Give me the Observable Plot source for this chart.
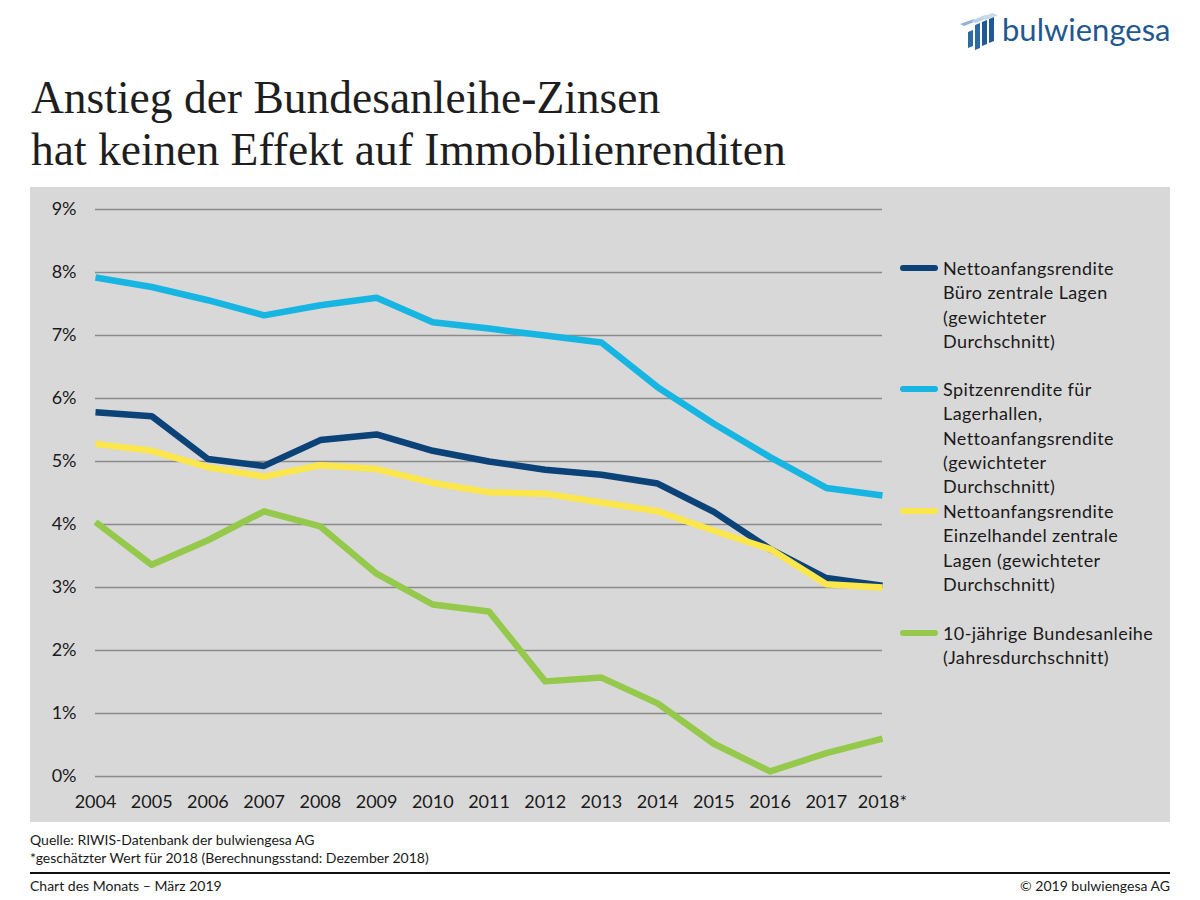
<!DOCTYPE html>
<html>
<head>
<meta charset="utf-8">
<script src="https://cdn.jsdelivr.net/npm/d3@7"></script>
<script src="https://cdn.jsdelivr.net/npm/@observablehq/plot@0.6"></script>
<style>
  html, body { margin: 0; padding: 0; background: #fff; }
  #page { position: relative; width: 1200px; height: 900px; overflow: hidden; font-family: Lato, "Open Sans", sans-serif; color: #1a1a1a; }
  #title { position: absolute; left: 31px; top: 72px; font-family: "Liberation Serif", serif; font-size: 45.5px; line-height: 52px; color: #1e1e1e; white-space: nowrap; }
  #chart { position: absolute; left: 30px; top: 187px; }
  #legend { position: absolute; left: 870px; top: 0; width: 270px; font-size: 18px; line-height: 24.3px; letter-spacing: 0.4px; }
  .entry { position: absolute; left: 0; }
  .sw { position: absolute; left: 0; top: 9px; width: 38px; height: 6px; border-radius: 3px; }
  .lt { position: absolute; left: 43px; top: 0; white-space: nowrap; }
  .foot { position: absolute; font-size: 14px; color: #1a1a1a; white-space: nowrap; }
  #rule { position: absolute; left: 30px; top: 872px; width: 1140px; height: 2px; background: #111; }
  #logo { position: absolute; left: 958px; top: 10px; }
</style>
</head>
<body>
<div id="page">
  <svg id="logo" width="215" height="42" viewBox="0 0 215 42">
    <polygon points="2,14 16,9 16,12 6,16" fill="#8fb3d4"/>
    <polygon points="10,22 10,38 15,36 15,20" fill="#2b6aa3"/>
    <polygon points="6,16 16,12 24,8 14,13" fill="#a9c6e0"/>
    <polygon points="17,15 17,40 22,38 22,13" fill="#2b6aa3"/>
    <polygon points="13,11 27,5 32,7 18,13" fill="#b9d2e8"/>
    <polygon points="24,12 24,36 29,34 29,10" fill="#1f5a94"/>
    <polygon points="31,9 31,33 36,31 36,7" fill="#1f5a94"/>
    <polygon points="22,8 34,3 40,5 28,10" fill="#c6dbee"/>
    <text x="44" y="31" font-family="Lato, sans-serif" font-size="31" fill="#22578f">bulwiengesa</text>
  </svg>
  <div id="title">Anstieg der Bundesanleihe-Zinsen<br>hat keinen Effekt auf Immobilienrenditen</div>
  <div id="chart"></div>
  <div class="foot" style="left:30px; top:831px;">Quelle: RIWIS-Datenbank der bulwiengesa AG</div>
  <div class="foot" style="left:30px; top:849px;">*geschätzter Wert für 2018 (Berechnungsstand: Dezember 2018)</div>
  <div id="rule"></div>
  <div class="foot" style="left:30px; top:877px;">Chart des Monats – März 2019</div>
  <div class="foot" style="right:30px; top:877px;">© 2019 bulwiengesa AG</div>
</div>
<script>
// ---- data ----
const years = [2004, 2005, 2006, 2007, 2008, 2009, 2010, 2011, 2012, 2013, 2014, 2015, 2016, 2017, 2018];
const yearLabels = ["2004", "2005", "2006", "2007", "2008", "2009", "2010", "2011", "2012", "2013", "2014", "2015", "2016", "2017", "2018*"];
const yTicks = [0, 1, 2, 3, 4, 5, 6, 7, 8, 9];

const seriesNames = [
  "Nettoanfangsrendite Büro zentrale Lagen (gewichteter Durchschnitt)",
  "Spitzenrendite für Lagerhallen, Nettoanfangsrendite (gewichteter Durchschnitt)",
  "Nettoanfangsrendite Einzelhandel zentrale Lagen (gewichteter Durchschnitt)",
  "10-jährige Bundesanleihe (Jahresdurchschnitt)"
];
const legendLines = [
  ["Nettoanfangsrendite", "Büro zentrale Lagen", "(gewichteter", "Durchschnitt)"],
  ["Spitzenrendite für", "Lagerhallen,", "Nettoanfangsrendite", "(gewichteter", "Durchschnitt)"],
  ["Nettoanfangsrendite", "Einzelhandel zentrale", "Lagen (gewichteter", "Durchschnitt)"],
  ["10-jährige Bundesanleihe", "(Jahresdurchschnitt)"]
];
const seriesColors = ["#0b4277", "#17b6e2", "#fbe64c", "#95c94b"];

const bueroValues   = [5.78, 5.72, 5.04, 4.93, 5.34, 5.43, 5.17, 5.00, 4.87, 4.79, 4.65, 4.20, 3.61, 3.15, 3.03];
const lagerValues   = [7.92, 7.77, 7.56, 7.32, 7.48, 7.60, 7.21, 7.11, 7.00, 6.89, 6.18, 5.60, 5.07, 4.58, 4.46];
const handelValues  = [5.28, 5.17, 4.91, 4.76, 4.94, 4.88, 4.66, 4.51, 4.49, 4.35, 4.21, 3.90, 3.61, 3.05, 3.00];
const bundValues    = [4.04, 3.36, 3.75, 4.21, 3.97, 3.22, 2.73, 2.62, 1.51, 1.57, 1.16, 0.52, 0.08, 0.37, 0.60];

const allSeries = [bueroValues, lagerValues, handelValues, bundValues];
const rows = [];
allSeries.forEach((vals, i) => vals.forEach((v, j) => rows.push({series: seriesNames[i], year: years[j], value: v})));

const chart = Plot.plot({
  width: 1140,
  height: 635,
  marginLeft: 65,
  marginRight: 288,
  marginTop: 22,
  marginBottom: 46,
  style: {background: "#d9d8d9", fontFamily: "Lato, 'Open Sans', sans-serif", fontSize: "18px", color: "#1a1a1a"},
  x: {domain: [2004, 2018]},
  y: {domain: [0, 9]},
  color: {domain: seriesNames, range: seriesColors},
  marks: [
    Plot.gridY(yTicks, {stroke: "#8a8a8a", strokeOpacity: 1, strokeWidth: 1.6}),
    Plot.axisY({ticks: yTicks, tickSize: 0, tickPadding: 19, label: null, tickFormat: d => d + "%"}),
    Plot.axisX({ticks: years, tickSize: 0, tickPadding: 19, label: null, tickFormat: d => yearLabels[years.indexOf(d)]}),
    Plot.line(rows, {x: "year", y: "value", z: "series", stroke: "series", strokeWidth: 6.5, strokeLinecap: "butt", strokeLinejoin: "round"})
  ]
});
document.getElementById("chart").appendChild(chart);

// legend overlay inside the grey panel
const legend = document.createElement("div");
legend.id = "legend";
const entryTops = [69, 190, 312, 434];
legendLines.forEach((lines, i) => {
  const e = document.createElement("div");
  e.className = "entry";
  e.style.top = entryTops[i] + "px";
  const sw = document.createElement("div");
  sw.className = "sw";
  sw.style.background = seriesColors[i];
  e.appendChild(sw);
  lines.forEach((t, k) => {
    const s = document.createElement("div");
    s.className = "lt";
    s.style.top = (k * 24.3) + "px";
    s.textContent = t;
    e.appendChild(s);
  });
  legend.appendChild(e);
});
document.getElementById("chart").style.width = "1140px";
document.getElementById("chart").style.height = "635px";
document.getElementById("chart").appendChild(legend);
</script>
</body>
</html>
